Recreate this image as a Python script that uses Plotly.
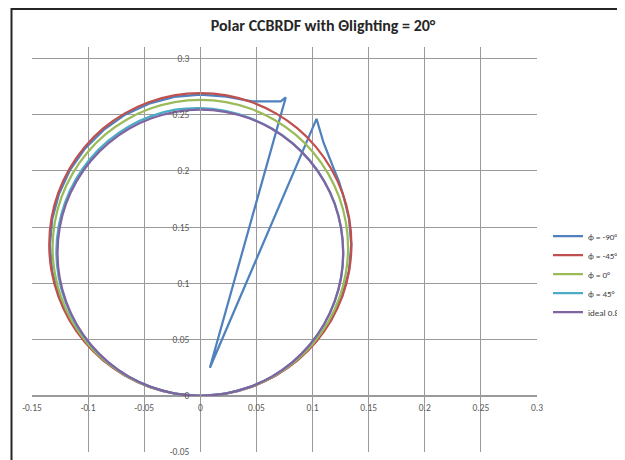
import math
import plotly.graph_objects as go

# ---- data: viewing angle (deg) and radius values ----
angles = [-90, -85, -80, -75, -70, -65, -60, -55, -50, -45, -40, -35, -30, -25, -20, -15, -10, -5,
          0, 5, 10, 15, 20, 25, 30, 35, 40, 45, 50, 55, 60, 65, 70, 75, 80, 85, 90]

r_m45 = [0, .0235, .0468, .0697, .0921, .1138, .1347, .1545, .1731, .1904, .2063, .2206, .2332, .2441, .2531, .2601, .2652, .2683,
         .2693, .2683, .2652, .2601, .2531, .2441, .2332, .2206, .2063, .1904, .1731, .1545, .1347, .1138, .0921, .0697, .0468, .0235, 0]
r_0 = [0, .0229, .0457, .0681, .0901, .1113, .1317, .1510, .1692, .1862, .2017, .2157, .2280, .2386, .2474, .2543, .2593, .2623,
       .2633, .2623, .2593, .2543, .2474, .2386, .2280, .2157, .2017, .1862, .1692, .1510, .1317, .1113, .0901, .0681, .0457, .0229, 0]
r_45 = [0, .0224, .0445, .0664, .0877, .1084, .1283, .1471, .1649, .1814, .1965, .2101, .2221, .2325, .2410, .2478, .2526, .2555,
        .2560, .2545, .2512, .2462, .2395, .2310, .2207, .2088, .1951, .1801, .1638, .1461, .1274, .1077, .0872, .0660, .0443, .0222, 0]
r_ideal = [0, .0222, .0442, .0659, .0871, .1076, .1273, .1460, .1637, .1800, .1950, .2086, .2205, .2307, .2392, .2459, .2507, .2536,
           .2546, .2536, .2507, .2459, .2392, .2307, .2205, .2086, .1950, .1800, .1637, .1460, .1273, .1076, .0871, .0659, .0442, .0222, 0]

angles_m90 = [-90, -85, -80, -75, -70, -65, -60, -55, -50, -45, -40, -35, -30, -25, -20, -15, -10, -5,
              0, 5, 10, 12.5, 15.3, 16.0, 18.8, 22.8, 26, 30, 33, 36, 40, 45, 50, 55, 60, 65, 70, 75, 80, 85, 90]
r_m90 = [0, .0234, .0465, .0694, .0917, .1133, .1340, .1537, .1723, .1895, .2053, .2195, .2321, .2429, .2518, .2589, .2639, .2670,
         .2680, .2672, .2660, .2684, .2716, .2761, .0264, .2672, .2505, .2360, .2270, .2178, .2060, .1902, .1729, .1543, .1345, .1136, .0919, .0696, .0467, .0234, 0]

series_names = ["ϕ = -90°", "ϕ = -45°", "ϕ = 0°", "ϕ = 45°", "ideal 0.8"]
series_angles = [angles_m90, angles, angles, angles, angles]
series_r = [r_m90, r_m45, r_0, r_45, r_ideal]
colors = ["#4F81BD", "#C0504D", "#9BBB59", "#4BACC6", "#8064A2"]
shapes_ = ["linear", "spline", "spline", "spline", "spline"]

x_ticks = [-0.15, -0.1, -0.05, 0, 0.05, 0.1, 0.15, 0.2, 0.25, 0.3]
x_ticktext = ["-0.15", "-0.1", "-0.05", "0", "0.05", "0.1", "0.15", "0.2", "0.25", "0.3"]
y_ticks = [-0.05, 0, 0.05, 0.1, 0.15, 0.2, 0.25, 0.3]
y_ticktext = ["-0.05", "0", "0.05", "0.1", "0.15", "0.2", "0.25", "0.3"]

title_text = "Polar CCBRDF with Θlighting = 20°"

FONT = "Carlito, Calibri, Lato, sans-serif"

fig = go.Figure()
for name, ang, rr, col, sh in zip(series_names, series_angles, series_r, colors, shapes_):
    xs = [r * math.sin(math.radians(a)) for a, r in zip(ang, rr)]
    ys = [r * math.cos(math.radians(a)) for a, r in zip(ang, rr)]
    fig.add_trace(go.Scatter(x=xs, y=ys, mode="lines", name=name,
                             line=dict(color=col, width=2.25, shape=sh, smoothing=0.8)))

# page has an 8px body margin: figure coords = page coords - 8
W, H = 617, 452
ml, mr, mt, mb = 24, 88, 39, 8
xr = [-0.15, 0.3]
yr = [-0.05, 0.3103]
xpos = (0 - yr[0]) / (yr[1] - yr[0])
ypos = (0 - xr[0]) / (xr[1] - xr[0])
pw = W - ml - mr
ph = H - mt - mb

grid = "#9a9a9a"
tickfont = dict(family=FONT, size=9.5, color="#595959")
fig.update_layout(
    width=W, height=H,
    margin=dict(l=ml, r=mr, t=mt, b=mb, autoexpand=False),
    paper_bgcolor="white", plot_bgcolor="white",
    font=dict(family=FONT, color="#595959", size=9),
    title=dict(text="<b>" + title_text + "</b>", xref="container", x=315 / W, xanchor="center",
               yref="container", y=1 - 17 / H, yanchor="middle",
               font=dict(family=FONT, size=16, color="#262626")),
    xaxis=dict(range=xr, tickvals=x_ticks, ticktext=x_ticktext, showgrid=True, gridcolor=grid,
               gridwidth=1, zeroline=False, showline=True, linecolor=grid, linewidth=1,
               anchor="free", position=xpos, ticks="outside", ticklen=3,
               tickcolor="rgba(0,0,0,0)", tickfont=tickfont),
    yaxis=dict(range=yr, tickvals=y_ticks, ticktext=y_ticktext, showgrid=True, gridcolor=grid,
               gridwidth=1, zeroline=False, showline=True, linecolor=grid, linewidth=1,
               anchor="free", position=ypos, ticks="outside", ticklen=9,
               tickcolor="rgba(0,0,0,0)", tickfont=tickfont),
    legend=dict(x=(540 - ml) / pw, xanchor="left", y=(H - mb - 266) / ph, yanchor="middle",
                font=dict(family=FONT, size=9, color="#404040"), bgcolor="rgba(0,0,0,0)",
                borderwidth=0),
    shapes=[dict(type="rect", xref="paper", yref="paper",
                 x0=(3.5 - ml) / pw, x1=1.4, y0=-0.2, y1=(H - mb - 1) / ph,
                 line=dict(color="#262626", width=2), fillcolor="rgba(0,0,0,0)", layer="above")],
)

fig.write_html("out.html")
